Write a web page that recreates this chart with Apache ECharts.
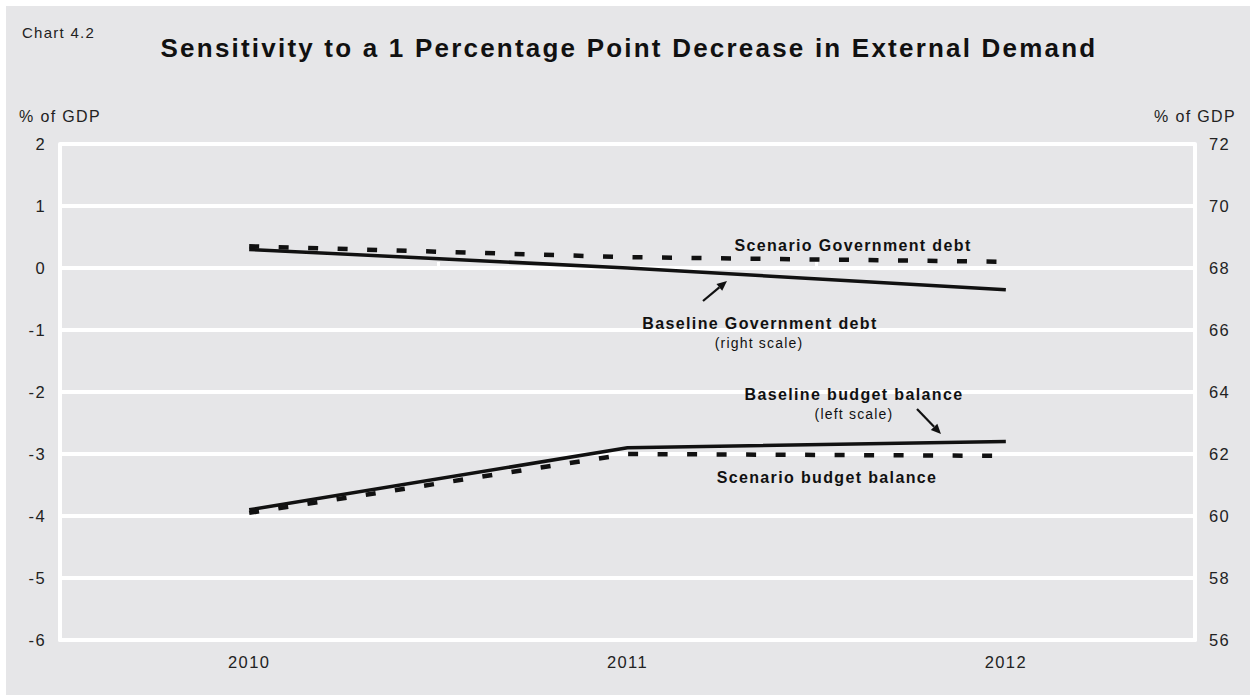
<!DOCTYPE html>
<html>
<head>
<meta charset="utf-8">
<script src="https://cdn.jsdelivr.net/npm/echarts@6/dist/echarts.min.js"></script>
<style>
  html, body { margin: 0; padding: 0; background: #ffffff; }
  #chart { width: 1250px; height: 695px; }
  /* the publication typeface is set with open tracking */
  #chart text { letter-spacing: 0.085em; }
</style>
</head>
<body>
<div id="chart"></div>
<script>
// Categories and series (% of GDP)
const years = ['2010', '2011', '2012'];
const baselineDebt = [68.6, 68.0, 67.3];        // right scale
const scenarioDebt = [68.7, 68.35, 68.2];       // right scale
const baselineBalance = [-3.9, -2.9, -2.8];     // left scale
const scenarioBalance = [-3.95, -3.0, -3.03];   // left scale

// Axis ranges / tick steps
const leftScale = { min: -6, max: 2, interval: 1 };
const rightScale = { min: 56, max: 72, interval: 2 };

const FONT = "'Liberation Sans', Arial, sans-serif";
const BG = '#e6e6e8';
const INK = '#111111';

function arrow(x1, y1, x2, y2) {
  const a = Math.atan2(y2 - y1, x2 - x1);
  const L = 10, W = 4.5;
  const bx = x2 - L * Math.cos(a), by = y2 - L * Math.sin(a);
  return [
    { type: 'line', silent: true, z: 50,
      shape: { x1: x1, y1: y1, x2: bx, y2: by },
      style: { stroke: INK, lineWidth: 2.2 } },
    { type: 'polygon', silent: true, z: 50,
      shape: { points: [[x2, y2],
        [bx + W * Math.sin(a), by - W * Math.cos(a)],
        [bx - W * Math.sin(a), by + W * Math.cos(a)]] },
      style: { fill: INK } }
  ];
}

function label(x, y, text, size, bold) {
  return { type: 'text', silent: true, z: 50, x: x, y: y,
    style: { text: text, fill: INK, font: (bold ? 'bold ' : '') + size + 'px ' + FONT,
      textAlign: 'center', textVerticalAlign: 'middle' } };
}

const chart = echarts.init(document.getElementById('chart'), null, { renderer: 'svg' });

const axisLineStyle = { color: '#ffffff', width: 4 };
const tickLabel = { color: '#222222', fontSize: 16.5, fontFamily: FONT };
const axisName = { color: '#222222', fontSize: 16, fontFamily: FONT, align: 'center' };

const option = {
  animation: false,
  backgroundColor: '#ffffff',
  grid: { left: 60, right: 55, top: 144, bottom: 55, containLabel: false },
  xAxis: [
    {
      type: 'category', data: years, boundaryGap: true, position: 'bottom',
      axisLine: { show: true, onZero: false, lineStyle: axisLineStyle },
      axisTick: { show: false },
      axisLabel: Object.assign({ margin: 13 }, tickLabel),
      splitLine: { show: false }
    },
    {
      // zero line of the left scale carries the category separators
      type: 'category', data: years, boundaryGap: true, position: 'top',
      axisLine: { show: true, onZero: true, lineStyle: axisLineStyle },
      axisTick: { show: true, inside: false, length: 6, lineStyle: { color: '#ffffff', width: 3 } },
      axisLabel: { show: false },
      splitLine: { show: false }
    }
  ],
  yAxis: [
    {
      type: 'value', position: 'left',
      min: leftScale.min, max: leftScale.max, interval: leftScale.interval,
      name: '% of GDP', nameLocation: 'end', nameGap: 20, nameTextStyle: axisName,
      axisLine: { show: true, lineStyle: axisLineStyle },
      axisTick: { show: false },
      axisLabel: Object.assign({ margin: 14 }, tickLabel),
      splitLine: { show: true, lineStyle: { color: '#ffffff', width: 4 } }
    },
    {
      type: 'value', position: 'right',
      min: rightScale.min, max: rightScale.max, interval: rightScale.interval,
      name: '% of GDP', nameLocation: 'end', nameGap: 20, nameTextStyle: axisName,
      axisLine: { show: true, lineStyle: axisLineStyle },
      axisTick: { show: false },
      axisLabel: Object.assign({ margin: 14 }, tickLabel),
      splitLine: { show: false }
    }
  ],
  series: [
    { name: 'Baseline Government debt', type: 'line', yAxisIndex: 1, data: baselineDebt,
      symbol: 'none', lineStyle: { color: INK, width: 3.5, type: 'solid' }, z: 3 },
    { name: 'Scenario Government debt', type: 'line', yAxisIndex: 1, data: scenarioDebt,
      symbol: 'none', lineStyle: { color: INK, width: 4.5, type: [10, 19.5], cap: 'butt' }, z: 4 },
    { name: 'Baseline budget balance', type: 'line', yAxisIndex: 0, data: baselineBalance,
      symbol: 'none', lineStyle: { color: INK, width: 3.5, type: 'solid' }, z: 3 },
    { name: 'Scenario budget balance', type: 'line', yAxisIndex: 0, data: scenarioBalance,
      symbol: 'none', lineStyle: { color: INK, width: 4.5, type: [10, 19.5], cap: 'butt' }, z: 4 }
  ],
  graphic: [
    { type: 'rect', silent: true, z: -100, shape: { x: 6, y: 6, width: 1244, height: 689 },
      style: { fill: BG } },
    { type: 'text', silent: true, z: 50, x: 22, y: 32,
      style: { text: 'Chart 4.2', fill: '#222222', font: '15px ' + FONT,
        textAlign: 'left', textVerticalAlign: 'middle' } },
    label(629, 48, 'Sensitivity to a 1 Percentage Point Decrease in External Demand', 26, true),
    label(853, 245, 'Scenario Government debt', 16, true),
    label(760, 323, 'Baseline Government debt', 16, true),
    label(759, 343, '(right scale)', 14, false),
    label(854, 394, 'Baseline budget balance', 16, true),
    label(854, 414, '(left scale)', 14, false),
    label(827, 477, 'Scenario budget balance', 16, true)
  ].concat(arrow(703, 301, 727, 281), arrow(917, 409, 941, 434))
};

chart.setOption(option);
</script>
</body>
</html>
